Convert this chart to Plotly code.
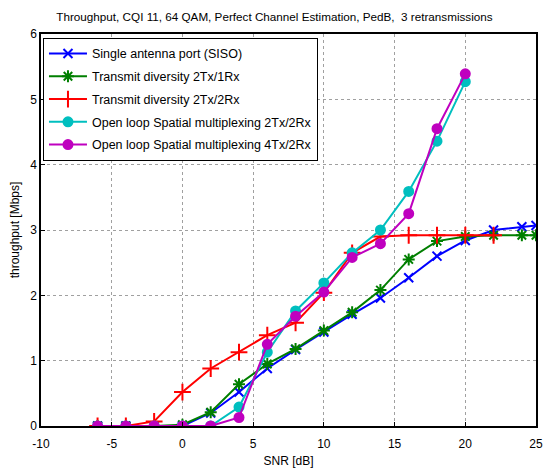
import plotly.graph_objects as go

snr_siso = [-6, -4, -2, 0, 2, 4, 6, 8, 10, 12, 14, 16, 18, 20, 22, 24, 25]
siso = [0, 0, 0, 0, 0.2, 0.52, 0.88, 1.17, 1.44, 1.71, 1.96, 2.27, 2.6, 2.84, 3.0, 3.05, 3.07]

snr_td21 = [-6, -4, -2, 0, 2, 4, 6, 8, 10, 12, 14, 16, 18, 20, 22, 24, 25]
td21 = [0, 0, 0, 0.02, 0.21, 0.64, 0.95, 1.18, 1.46, 1.74, 2.08, 2.55, 2.83, 2.9, 2.92, 2.92, 2.92]

snr_td22 = [-6, -4, -2, 0, 2, 4, 6, 8, 10, 12, 14, 16, 18, 20, 22]
td22 = [0, 0, 0.07, 0.52, 0.88, 1.13, 1.39, 1.58, 2.04, 2.65, 2.9, 2.92, 2.92, 2.92, 2.92]

snr_sm = [-6, -4, -2, 0, 2, 4, 6, 8, 10, 12, 14, 16, 18, 20]
sm22 = [0, 0, 0, 0, 0, 0.29, 1.13, 1.76, 2.19, 2.65, 3.0, 3.59, 4.36, 5.27]
sm42 = [0, 0, 0, 0, 0, 0.13, 1.25, 1.68, 2.05, 2.58, 2.79, 3.25, 4.55, 5.39]

x_ticks = [-10, -5, 0, 5, 10, 15, 20, 25]
x_ticklabels = ["-10", "-5", "0", "5", "10", "15", "20", "25"]

names = ["Single antenna port (SISO)", "Transmit diversity 2Tx/1Rx",
         "Transmit diversity 2Tx/2Rx", "Open loop Spatial multiplexing 2Tx/2Rx",
         "Open loop Spatial multiplexing 4Tx/2Rx"]

fig = go.Figure()
specs = [
    (snr_siso, siso, "#0000ff", "x-thin-open", 9),
    (snr_td21, td21, "#007f00", "asterisk-open", 10),
    (snr_td22, td22, "#ff0000", "cross-thin-open", 12),
    (snr_sm, sm22, "#00bfbf", "circle", 9),
    (snr_sm, sm42, "#bf00bf", "circle", 9),
]
for i, ((x, y, c, sym, sz), n) in enumerate(zip(specs, names)):
    fig.add_trace(go.Scatter(
        x=x, y=y, name=n, mode="lines+markers", legendgroup=f"g{i}",
        line=dict(color=c, width=2),
        marker=dict(symbol=sym, size=sz, color=c, line=dict(color=c, width=2)),
    ))

fig.update_layout(
    width=549, height=472,
    margin=dict(l=41, r=6, t=34, b=45),
    paper_bgcolor="white", plot_bgcolor="white",
    font=dict(family="Liberation Sans, Arial, sans-serif", size=12, color="black"),
    title=dict(text="Throughput, CQI 11, 64 QAM, Perfect Channel Estimation, PedB,  3 retransmissions",
               x=0.5, xanchor="center", y=0.965, yanchor="middle",
               font=dict(size=11.7, color="black")),
    legend=dict(x=0.004, y=0.99, xanchor="left", yanchor="top",
                bgcolor="white", bordercolor="black", borderwidth=1,
                font=dict(size=12.5), tracegroupgap=3.5, itemwidth=38),
    showlegend=True,
)
fig.update_xaxes(range=[-10, 25], tickmode="array", tickvals=x_ticks, ticktext=x_ticklabels,
                 showgrid=True, gridcolor="#a0a0a0",
                 griddash="dot", gridwidth=1, zeroline=False,
                 showline=True, linecolor="black", linewidth=1.5, mirror=True,
                 ticks="inside", ticklen=4, tickcolor="black", ticklabelstandoff=6,
                 title=dict(text="SNR [dB]", standoff=6, font=dict(size=12)),
                 tickfont=dict(size=12))
fig.update_yaxes(range=[0, 6], dtick=1, showgrid=True, gridcolor="#a0a0a0",
                 griddash="dot", gridwidth=1, zeroline=False,
                 showline=True, linecolor="black", linewidth=1.5, mirror=True,
                 ticks="inside", ticklen=4, tickcolor="black",
                 title=dict(text="throughput [Mbps]", standoff=8, font=dict(size=12)),
                 tickfont=dict(size=12))

fig.write_html("out.html")
